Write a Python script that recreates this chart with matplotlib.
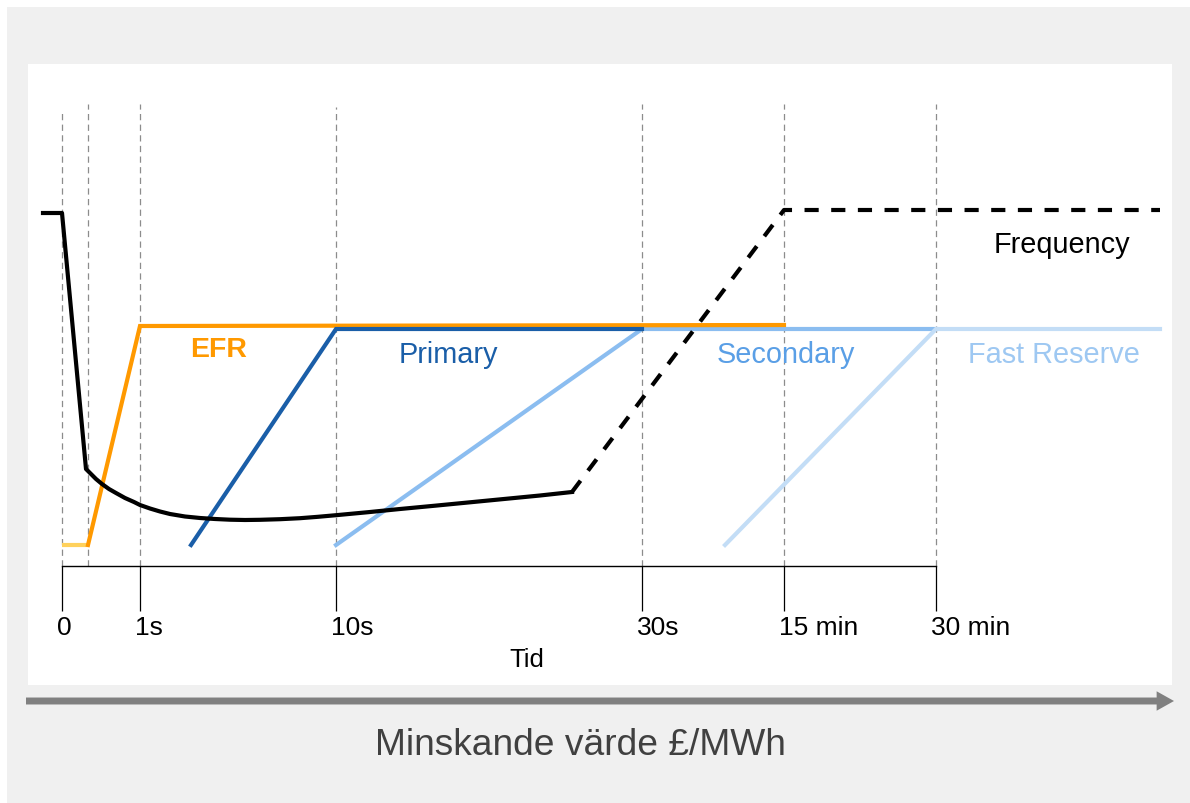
import matplotlib
matplotlib.use("Agg")
import matplotlib.pyplot as plt
from matplotlib.patches import Rectangle
from matplotlib.transforms import ScaledTranslation

plt.rcParams['font.family'] = ['Liberation Sans', 'DejaVu Sans']

# ---- data (schematic units) ----
tick_pos = [0, 7.8, 27.4, 58.0, 72.2, 87.4]
tick_labels = ["0", "1s", "10s", "30s", "15 min", "30 min"]
guide_x = [0, 2.6, 7.8, 27.4, 58.0, 72.2, 87.4]
guide_top = [45.4, 46.2, 46.2, 45.9, 46.2, 46.2, 46.2]

freq_solid_x = [-1.9, 0, 2.4, 2.9, 3.4, 4.0, 4.7, 5.4, 6.3, 7.2, 7.8, 8.8, 9.8, 10.8, 12.3, 13.8,
                15.3, 16.8, 18.3, 19.8, 21.8, 23.8, 25.6, 27.4, 30.6, 33.8, 37.3, 40.8, 44.3, 47.8, 51.0]
freq_solid_y = [35.3, 35.3, 9.7, 9.2, 8.7, 8.2, 7.7, 7.3, 6.8, 6.4, 6.1, 5.75, 5.45, 5.2, 4.95, 4.8,
                4.7, 4.63, 4.6, 4.62, 4.68, 4.78, 4.92, 5.08, 5.38, 5.7, 6.03, 6.37, 6.71, 7.05, 7.4]
freq_dash_x = [51.0, 72.2, 109.8]
freq_dash_y = [7.4, 35.6, 35.6]

efr_pre_x = [0, 2.6]
efr_pre_y = [2.1, 2.1]
efr_x = [2.6, 7.8, 72.2]
efr_y = [2.1, 24.0, 24.1]
primary_x = [12.9, 27.4, 58.0]
primary_y = [2.1, 23.7, 23.7]
secondary_x = [27.4, 58.0, 87.4]
secondary_y = [2.1, 23.7, 23.7]
fast_x = [66.3, 87.4, 109.8]
fast_y = [2.1, 23.7, 23.7]

W, H = 1190, 804
fig = plt.figure(figsize=(W / 100, H / 100), dpi=100)
fig.patch.set_facecolor('white')
fig.add_artist(Rectangle((7 / W, 0), 1 - 7 / W, (H - 8) / H, transform=fig.transFigure,
                         facecolor='#f0f0f0', edgecolor='none', zorder=0))

ax = fig.add_axes([28 / W, (H - 686) / H, 1144 / W, 621 / H])
ax.set_facecolor('white')
ax.set_xlim(-3.4, 111.0)
ax.set_ylim(-11.9, 50.2)
for s in ['top', 'left', 'right']:
    ax.spines[s].set_visible(False)
ax.spines['bottom'].set_position(('data', 0))
ax.spines['bottom'].set_bounds(0, 87.4)
ax.spines['bottom'].set_linewidth(1.0)
ax.set_yticks([])
ax.set_xticks(tick_pos, tick_labels)
ax.tick_params(axis='x', direction='out', length=32.4, width=0.9, pad=3, labelsize=19)
off = ScaledTranslation(-5 / 100, 0, fig.dpi_scale_trans)
for lbl in ax.get_xticklabels():
    lbl.set_horizontalalignment('left')
    lbl.set_transform(lbl.get_transform() + off)

for gx, gt in zip(guide_x, guide_top):
    ax.plot([gx, gx], [0, gt], color='#8c8c8c', lw=0.9, ls=(0, (5, 3.5)), zorder=1)

lw = 3.0
ax.plot(efr_pre_x, efr_pre_y, color='#ffd15c', lw=lw, solid_capstyle='butt', zorder=3)
ax.plot(efr_x, efr_y, color='#ff9900', lw=lw, solid_joinstyle='miter', zorder=3)
ax.plot(primary_x, primary_y, color='#1a5ea8', lw=lw, solid_joinstyle='miter', zorder=3)
ax.plot(secondary_x, secondary_y, color='#8bbdf0', lw=lw, solid_joinstyle='miter', zorder=2)
ax.plot(fast_x, fast_y, color='#c3ddf6', lw=lw, solid_joinstyle='miter', zorder=2)
ax.plot(freq_solid_x, freq_solid_y, color='black', lw=lw, solid_joinstyle='round', zorder=4)
ax.plot(freq_dash_x, freq_dash_y, color='black', lw=lw, dashes=(3.4, 3.0), zorder=4)

ax.text(15.7, 21.0, "EFR", color='#ff9900', fontsize=20.5, fontweight='bold', ha='center', va='baseline')
ax.text(38.65, 20.4, "Primary", color='#1a5ea8', fontsize=20.8, ha='center', va='baseline')
ax.text(72.4, 20.4, "Secondary", color='#5a9fe6', fontsize=20.8, ha='center', va='baseline')
ax.text(99.2, 20.4, "Fast Reserve", color='#9ec8f2', fontsize=20.8, ha='center', va='baseline')
ax.text(99.95, 31.4, "Frequency", color='black', fontsize=20.8, ha='center', va='baseline')
ax.text(46.5, -10.0, "Tid", color='black', fontsize=18.5, ha='center', va='baseline')

ax.annotate('', xy=(1174, H - 702), xytext=(26, H - 702), xycoords='figure pixels',
            textcoords='figure pixels',
            arrowprops=dict(arrowstyle='simple,head_length=1.25,head_width=1.4,tail_width=0.5',
                            lw=0, facecolor='#808080', edgecolor='none',
                            mutation_scale=10, shrinkA=0, shrinkB=0))
fig.text(580 / W, 49 / H, "Minskande värde £/MWh", color='#404040', fontsize=26.7,
         ha='center', va='baseline')

fig.savefig('out.png', dpi=100, facecolor=fig.get_facecolor())
